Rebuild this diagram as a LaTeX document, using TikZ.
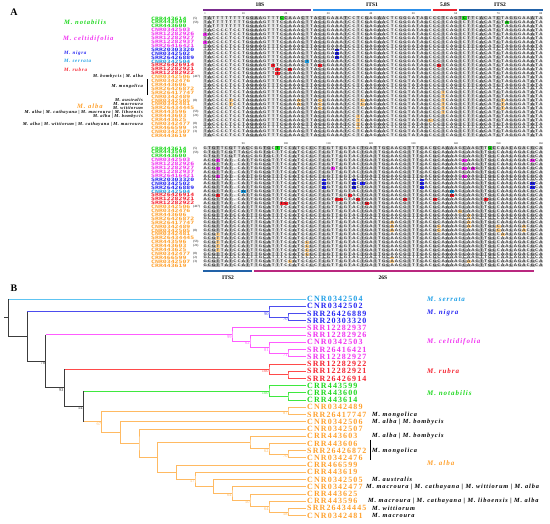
\documentclass[tikz,border=0pt]{standalone}
\usepackage{fontspec}
\setmainfont{Liberation Serif}
\newfontfamily\seqfont[LetterSpace=20]{DejaVu Sans Mono}
\newfontfamily\accfont{DejaVu Sans Mono}
\newfontfamily\widefont[LetterSpace=14]{Liberation Serif}
\newfontfamily\smallwide[LetterSpace=12]{Liberation Serif}
\usepackage{graphicx}
\usetikzlibrary{calc,positioning}

\definecolor{cgreen}{HTML}{1FD81F}
\definecolor{cmag}{HTML}{F032F0}
\definecolor{cblue}{HTML}{2626F2}
\definecolor{ccyan}{HTML}{1E9FE6}
\definecolor{cred}{HTML}{F5222F}
\definecolor{corange}{HTML}{FFA12E}
\definecolor{lorange}{HTML}{FFD08C}
\definecolor{tgreen}{HTML}{3FE83F}
\definecolor{tmag}{HTML}{FF5CFF}
\definecolor{tblue}{HTML}{4C4CEE}
\definecolor{tcyan}{HTML}{5EC4F2}
\definecolor{tred}{HTML}{FF4A4A}
\definecolor{torange}{HTML}{FFBA62}
\definecolor{tblack}{HTML}{3C3C3C}
\definecolor{c18s}{HTML}{7B2C8E}
\definecolor{cits1}{HTML}{2D8FE8}
\definecolor{c58s}{HTML}{E9212E}
\definecolor{cits2}{HTML}{2262A8}
\definecolor{c26s}{HTML}{B9287F}
\definecolor{aln1}{HTML}{E8E8E8}
\definecolor{aln2}{HTML}{CFCFCF}
\definecolor{aln3}{HTML}{B2B2B2}

% squeezed text for the alignment
\newcommand{\sq}[1]{\scalebox{1}[0.7]{#1}}

% sequences (upper block: 1-80, lower block: 81-160)
\newcommand{\seqUg}{TATTTTTTTTGGAAGTTTCCAAACTTACCGAAATCCTCGAGAACTCGGGATAGCCCTCAGTCTTCACATCTAGGGAAATA}
\newcommand{\seqUr}{TACCCCTCCTGGAAGTTTCCAAACTTACCGAAATCCTCGAGAACTCGGGATAGCCCTCAGTCTTCACATCTAGGGAAATA}
\newcommand{\seqUo}{TACCCCTCCTAGAAGTTTCCAAACTTACCGAAATCCTCAAGAACTCGGTATAGCCCTCAGTCTTCACATCTAGGGATATA}
\newcommand{\seqLg}{GTGTTCGTTACCGGTGCTTCCATCCCCTCGTTCGTACTGATTGCAACGTTTCACGCAAAAGCAAGTTGCCAACAGACGCA}
\newcommand{\seqLr}{ACGTTAT.CATTGGCGTTTCCATCCCCTCGTTCGTACTGATTGCAACGTTTCACGCAAAAGCAAGTTGCCAACAGACGCA}
\newcommand{\seqLo}{GCGTTATCCATTTGCATTTCCATCCCCTCGTTCGTACTGATTGCAACGTTTCACGCAAAAGCAAGTTGCCAACAGACGCA}

\newcommand{\shadeU}{2,3,1,1,1,1,1,1,1,1,2,3,3,2,1,1,1,1,2,3,2,1,1,3,2,1,2,3,3,1,1,2,1,3,1,1,2,1,3,1,1,3,2,1,1,1,2,2,1,1,2,1,3,1,2,2,3,1,1,2,3,1,2,2,1,3,2,1,1,3,1,1,2,2,1,1,1,3,1,1}
\newcommand{\shadeL}{1,2,3,3,1,2,3,1,1,2,3,1,2,1,3,3,1,2,1,1,2,3,1,2,1,3,1,2,3,2,1,1,3,1,2,1,1,3,2,1,3,1,2,3,1,1,2,2,3,1,2,3,1,1,3,2,1,3,2,1,1,3,2,1,2,3,1,3,3,1,2,1,3,1,2,2,1,3,1,2}

% tree clade: name, x, child1, child2, colour, bootstrap
\newcommand{\clade}[6]{%
  \coordinate (tmp) at ($(#3)!.5!(#4)$);
  \coordinate (#1) at (#2,0 |- tmp);
  \draw[branch,#5] (#3) -| (#1) |- (#4);
  \node[boot,text=#5] (#1b) at (#1) {#6};
}
% backbone clade: name, x, child1, colour1, child2, colour2, bootstrap
\newcommand{\bclade}[7]{%
  \coordinate (tmp) at ($(#3)!.5!(#5)$);
  \coordinate (#1) at (#2,0 |- tmp);
  \draw[branch,#4] (#3) -- (#3 -| #1);
  \draw[branch,#6] (#5) -- (#5 -| #1);
  \draw[branch,tblack] (#3 -| #1) -- (#5 -| #1);
  \node[boot,text=tblack] (#1b) at (#1) {#7};
}

\begin{document}
\begin{tikzpicture}[x=1pt,y=-1pt,
	panel/.style={font=\bfseries\fontsize{10}{10}\selectfont, inner sep=0pt},
	region/.style={font=\bfseries\fontsize{5.5}{6}\selectfont, inner sep=0pt},
	tick/.style={font=\fontsize{2.8}{3}\selectfont, inner sep=0pt},
	acc/.style={font=\accfont\bfseries\fontsize{6.5}{6}\selectfont, inner sep=0pt, anchor=west},
	seqtxt/.style={font=\seqfont\fontsize{5.3}{6}\selectfont, inner sep=0pt, anchor=west, xshift=0.4pt},
	cnt/.style={font=\fontsize{3.2}{3}\selectfont, inner sep=0pt, anchor=west},
	specA/.style={font=\widefont\bfseries\itshape\fontsize{6.6}{7}\selectfont, inner sep=0pt, anchor=west},
	specAs/.style={font=\widefont\bfseries\itshape\fontsize{5}{5}\selectfont, inner sep=0pt, anchor=west},
	anote/.style={font=\smallwide\bfseries\itshape\fontsize{4.5}{4.5}\selectfont, inner sep=0pt, anchor=east},
	leaf/.style={font=\widefont\bfseries\fontsize{8}{8}\selectfont, inner sep=1pt, anchor=west},
	specB/.style={font=\widefont\bfseries\itshape\fontsize{7}{7}\selectfont, inner sep=0pt, anchor=west},
	bnote/.style={font=\widefont\bfseries\itshape\fontsize{6.3}{6.3}\selectfont, inner sep=0pt, anchor=west},
	boot/.style={font=\fontsize{4.5}{4.5}\selectfont, inner sep=0.3pt, anchor=north east},
	branch/.style={line width=0.8pt}
	]
	\useasboundingbox (0,0) rectangle (550,524);
	
	\node[panel] (A) at (14,12) {A};
	\node[panel] (B) at (14,288) {B};
	
	%% ---------- panel A: regions
	\fill[c18s] (203,9.2) rectangle (311,11);
	\fill[cits1] (313,9.2) rectangle (431,11);
	\fill[c58s] (433,9.2) rectangle (457,11);
	\fill[cits2] (459,9.2) rectangle (543,11);
	\node[region] (u18s) at (260,4.5) {18S};
	\node[region] (uits1) at (372,4.5) {ITS1};
	\node[region] (u58s) at (445,4.5) {5.8S};
	\node[region] (uits2) at (500,4.5) {ITS2};
	\fill[cits2] (203,270.2) rectangle (252,272);
	\fill[c26s] (254,270.2) rectangle (534,272);
	\node[region] (lits2) at (228,278) {ITS2};
	\node[region] (l26s) at (383,278) {26S};
	
	%% ---------- panel A: shading
	\foreach \s [count=\c] in \shadeU
		\fill[fill=aln\s] ({203+(\c-1)*4.25},16.5) rectangle ++(4.25,120.9);
	\foreach \s [count=\c] in \shadeL
		\fill[fill=aln\s] ({203+(\c-1)*4.25},146.5) rectangle ++(4.25,120.9);
	
	% variable sites, upper block
	\foreach \c/\r/\k in {19/0/cgreen,62/0/cgreen,72/1/cgreen,
		1/4/cmag,1/6/cmag,
		32/8/cblue,32/9/cblue,32/10/cblue,
		25/11/ccyan,
		17/12/cred,28/12/cred,56/12/cred,18/13/cred,21/13/cred,18/14/cred,
		7/21/lorange,7/22/lorange,23/21/lorange,23/22/lorange,28/21/lorange,28/22/lorange,28/23/lorange,
		38/21/lorange,38/22/lorange,37/25/lorange,37/26/lorange,37/27/lorange,37/28/lorange,
		57/19/lorange,57/20/lorange,57/21/lorange,57/22/lorange,57/23/lorange,57/24/lorange,
		54/26/lorange,71/21/lorange,71/22/lorange,71/23/lorange}
		\fill[fill=\k] ({203+(\c-1)*4.25},{16.5+\r*3.9}) rectangle ++(4.25,3.9);
	% variable sites, lower block
	\foreach \c/\r/\k in {18/0/cgreen,68/0/cgreen,
		4/3/cmag,4/5/cmag,4/7/cmag,31/5/cmag,62/3/cmag,62/5/cmag,62/7/cmag,64/5/cmag,78/3/cmag,
		29/8/cblue,29/9/cblue,29/10/cblue,36/8/cblue,36/9/cblue,36/10/cblue,38/9/cblue,
		52/8/cblue,52/9/cblue,52/10/cblue,78/9/cblue,78/10/cblue,
		10/11/ccyan,59/11/ccyan,
		4/12/cred,35/12/cred,59/12/cred,32/13/cred,33/13/cred,37/13/cred,48/13/cred,55/13/cred,
		67/13/cred,19/14/cred,20/14/cred,39/14/cred,
		4/22/lorange,4/23/lorange,4/24/lorange,4/25/lorange,4/26/lorange,
		61/16/lorange,63/17/lorange,63/18/lorange,63/19/lorange,63/20/lorange,
		45/19/lorange,45/20/lorange,45/21/lorange,56/20/lorange,56/21/lorange,
		70/20/lorange,70/21/lorange,71/22/lorange,76/20/lorange,76/21/lorange,
		25/24/lorange,25/25/lorange,25/26/lorange,25/27/lorange,
		21/29/lorange,45/28/lorange,45/29/lorange,63/29/lorange}
		\fill[fill=\k] ({203+(\c-1)*4.25},{146.5+\r*3.9}) rectangle ++(4.25,3.9);
	
	% row separators
	\foreach \r in {1,...,30} {
		\draw[white,line width=0.35pt] (203,{16.5+\r*3.9}) -- (543,{16.5+\r*3.9});
		\draw[white,line width=0.35pt] (203,{146.5+\r*3.9}) -- (543,{146.5+\r*3.9});
	}
	
	% position ticks
	\foreach \p in {1,10,20,...,80}
		\node[tick] (ut\p) at ({203+(\p-0.5)*4.25},13.2) {\p};
	\foreach \p in {90,100,...,160}
		\node[tick] (lt\p) at ({203+(\p-80.5)*4.25},143.7) {\p};
	
	%% ---------- panel A: accessions and sequences
	\foreach \acc/\col/\v [count=\i from 0] in {CRR443614/cgreen/g,
		CRR443599/cgreen/g,
		CRR443600/cgreen/g,
		CNR0342503/cmag/r,
		SRR12282926/cmag/r,
		SRR12282927/cmag/r,
		SRR12282937/cmag/r,
		SRR26416421/cmag/r,
		SRR20303320/cblue/r,
		CNR0342502/cblue/r,
		SRR26426889/cblue/r,
		CNR0342504/ccyan/r,
		SRR26426914/cred/r,
		SRR12282921/cred/r,
		SRR12282922/cred/r,
		CNR0342506/corange/o,
		CNR0342476/corange/o,
		CRR443606/corange/o,
		SRR26426872/corange/o,
		SRR26417747/corange/o,
		CNR0342489/corange/o,
		CNR0342505/corange/o,
		CNR0342481/corange/o,
		SRR26434445/corange/o,
		CRR443596/corange/o,
		CRR443603/corange/o,
		CRR443625/corange/o,
		CNR0342477/corange/o,
		CRR466599/corange/o,
		CNR0342507/corange/o,
		CRR443619/corange/o} {
		\node[acc,text=\col] (uacc\i) at (151,{18.45+\i*3.9}) {\sq{\acc}};
		\node[acc,text=\col] (lacc\i) at (151,{148.45+\i*3.9}) {\sq{\acc}};
		\node[seqtxt] (useq\i) at (203,{18.45+\i*3.9}) {\sq{\csname seqU\v\endcsname}};
		\node[seqtxt] (lseq\i) at (203,{148.45+\i*3.9}) {\sq{\csname seqL\v\endcsname}};
	}
	\foreach \r/\n in {0/5,1/53,15/417,21/8,24/53,25/21,27/8,28/2,29/3} {
		\node[cnt] (ucnt\r) at (193,{18.45+\r*3.9}) {(\n)};
		\node[cnt] (lcnt\r) at (193,{148.45+\r*3.9}) {(\n)};
	}
	
	% species of panel A
	\node[specA,text=cgreen] (anot) at (64,22.3) {M. notabilis};
	\node[specA,text=cmag] (acel) at (63,38.5) {M. celtidifolia};
	\node[specAs,text=cblue] (anig) at (64,53.6) {M. nigra};
	\node[specAs,text=ccyan] (aser) at (64,61.4) {M. serrata};
	\node[specAs,text=cred] (arub) at (64,69.4) {M. rubra};
	\node[specA,text=corange] (aalb) at (77,106.5) {M. alba};
	\node[anote] (an15) at (143,76.9) {M. bombycis | M. alba};
	\node[anote] (an16) at (143,86.7) {M. mongolica};
	\coordinate (amgtop) at (147,79.2);
	\coordinate (amgbot) at (147,94.6);
	\draw[line width=0.6pt] (amgtop) -- (amgbot);
	\node[anote] (an21) at (143,100.3) {M. australis};
	\node[anote] (an22) at (143,104.2) {M. macroura};
	\node[anote] (an23) at (143,108.1) {M. wittiorum};
	\node[anote] (an24) at (143,112.3) {M. alba | M. cathayana | M. macroura | M. liboensis};
	\node[anote] (an25) at (143,116.2) {M. alba | M. bombycis};
	\node[anote] (an27) at (143,124.2) {M. alba | M. wittiorum | M. cathayana | M. macroura};
	
	%% ---------- panel B: leaves
	\foreach \acc/\col [count=\i from 0] in {CNR0342504/ccyan,
		CNR0342502/cblue,
		SRR26426889/cblue,
		SRR20303320/cblue,
		SRR12282937/cmag,
		SRR12282926/cmag,
		CNR0342503/cmag,
		SRR26416421/cmag,
		SRR12282927/cmag,
		SRR12282922/cred,
		SRR12282921/cred,
		SRR26426914/cred,
		CRR443599/cgreen,
		CRR443600/cgreen,
		CRR443614/cgreen,
		CNR0342489/corange,
		SRR26417747/corange,
		CNR0342506/corange,
		CNR0342507/corange,
		CRR443603/corange,
		CRR443606/corange,
		SRR26426872/corange,
		CNR0342476/corange,
		CRR466599/corange,
		CRR443619/corange,
		CNR0342505/corange,
		CNR0342477/corange,
		CRR443625/corange,
		CRR443596/corange,
		SRR26434445/corange,
		CNR0342481/corange}
		\node[leaf,text=\col] (L\i) at (306,{299+7.22*\i}) {\acc};
	
	% clades
	\clade{ng2}{288}{L2}{L3}{tblue}{70}
	\clade{ng1}{269}{L1}{ng2}{tblue}{90}
	\clade{ce4}{288}{L7}{L8}{tmag}{71}
	\clade{ce3}{269}{L6}{ce4}{tmag}{81}
	\clade{ce2}{250}{L5}{ce3}{tmag}{62}
	\clade{ce1}{232}{L4}{ce2}{tmag}{99}
	\clade{ru2}{288}{L10}{L11}{tred}{}
	\clade{ru1}{269}{L9}{ru2}{tred}{100}
	\clade{no2}{288}{L13}{L14}{tgreen}{}
	\clade{no1}{269}{L12}{no2}{tgreen}{100}
	\clade{al16}{288}{L15}{L16}{torange}{87}
	\clade{mo3}{288}{L21}{L22}{torange}{70}
	\clade{mo2}{269}{L20}{mo3}{torange}{62}
	\clade{mo1}{250}{L19}{mo2}{torange}{}
	\clade{ma3}{288}{L29}{L30}{torange}{58}
	\clade{ma2}{269}{L28}{ma3}{torange}{64}
	\clade{ma1}{250}{L27}{ma2}{torange}{50}
	\clade{al12}{232}{L26}{ma1}{torange}{64}
	\clade{al11}{213.3}{L25}{al12}{torange}{}
	\clade{al10}{195}{L24}{al11}{torange}{57}
	\clade{al9}{176.3}{L23}{al10}{torange}{}
	\clade{al8}{157.7}{mo1}{al9}{torange}{}
	\clade{al7}{139}{L18}{al8}{torange}{}
	\clade{al6}{120.3}{L17}{al7}{torange}{}
	\clade{al5}{101.7}{al16}{al6}{torange}{67}
	\bclade{bb4}{83}{no1}{tgreen}{al5}{torange}{54}
	\bclade{bb3}{64}{ru1}{tred}{bb4}{tblack}{93}
	\bclade{bb2}{45.7}{ce1}{tmag}{bb3}{tblack}{78}
	\bclade{bb1}{27}{ng1}{tblue}{bb2}{tblack}{}
	\bclade{root}{8}{L0}{tcyan}{bb1}{tblack}{}
	\coordinate (stub) at (4,0 |- root);
	\draw[branch,tblack] (stub) -- (root);
	
	% species of panel B
	\node[specB,text=ccyan] (bser) at (427,299) {M. serrata};
	\node[specB,text=cblue] (bnig) at (427,313) {M. nigra};
	\node[specB,text=cmag] (bcel) at (427,342) {M. celtidifolia};
	\node[specB,text=cred] (brub) at (427,371) {M. rubra};
	\node[specB,text=cgreen] (bnot) at (427,393) {M. notabilis};
	\node[specB,text=corange] (balb) at (427,463) {M. alba};
	\node[bnote] (bn16) at (372,0 |- L16) {M. mongolica};
	\node[bnote] (bn17) at (372,0 |- L17) {M. alba | M. bombycis};
	\node[bnote] (bn19) at (372,0 |- L19) {M. alba | M. bombycis};
	\node[bnote] (bn21) at (372,0 |- L21) {M. mongolica};
	\coordinate (bmgtop) at (370,440);
	\coordinate (bmgbot) at (370,460);
	\draw[line width=0.6pt] (bmgtop) -- (bmgbot);
	\node[bnote] (bn25) at (372,0 |- L25) {M. australis};
	\node[bnote] (bn26) at (366,0 |- L26) {M. macroura | M. cathayana | M. wittiorum | M. alba};
	\node[bnote] (bn28) at (368,0 |- L28) {M. macroura | M. cathayana | M. liboensis | M. alba};
	\node[bnote] (bn29) at (372,0 |- L29) {M. wittiorum};
	\node[bnote] (bn30) at (372,0 |- L30) {M. macroura};
	
\end{tikzpicture}
\end{document}
